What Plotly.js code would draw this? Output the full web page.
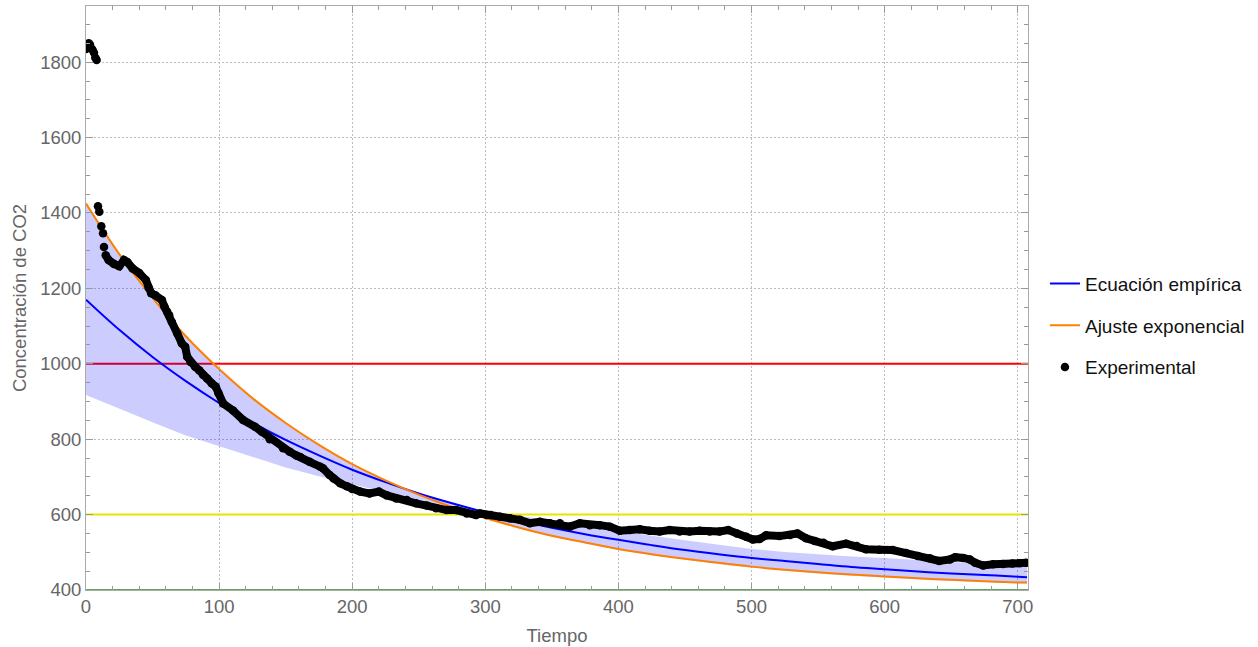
<!DOCTYPE html>
<html>
<head>
<meta charset="utf-8">
<script src="https://cdn.plot.ly/plotly-3.0.1.min.js"></script>
<style>html,body{margin:0;padding:0;background:#fff;}#chart{width:1258px;height:647px;}</style>
</head>
<body>
<div id="chart"></div>
<script>
// ---- Data ----
const curveT      = [0,25,50,75,100,125,150,175,200,225,250,275,300,325,350,375,400,425,450,475,500,525,550,575,600,625,650,675,700,707];
const empirica    = [1170,1090,1018,954,896,844,798,757,719,686,656,630,606,584,565,548,533,519,506,495,485,477,469,461,455,449,444,440,435,434];
const exponencial = [1425,1291,1175,1073,986,909,843,785,734,691,653,620,591,566,544,526,509,495,483,472,462,454,447,441,436,431,427,423,420,420];
const bandaSup    = [1425,1291,1175,1073,986,909,843,785,734,691,656,630,608,597,585,571,557,544,532,520,509,501,495,489,485,480,475,469,463,462];
const bandaInf    = [917,880,845,810,782,752,725,702,680,659,640,620,590,564,541,523,506,492,480,469,459,451,444,438,433,428,424,421,418,417];

const expT = [0,1,2,3,4,5,6,7,8,
  9,10,11.5,12.8,13.5,14.8,17,21,25,28.5,31,35,40,45,47,49,52,57,59,61,62.5,64.5,68.5,72,74.5,76,78.5,82,85,88,91,94.5,97.5,99.5,
  103,110.5,118,127,132,138,148,153,158,161,168,176,178,183,186,191,196,200,206,213,220,226,233,241,248,256,263,271,278,286,293,296,
  301,304,311,318.5,326,333.5,341,348.5,356,363.5,371,378.5,386,393.5,401,408.5,416,423.5,431,438.5,446,453.5,461,468.5,476,482.5,489,496,
  501,506,511,521,529,534.5,541,547.5,554,561,571,579,586,596,606,616,625,634,641,649,653,659,664,668,674,681.5,689,696,701.5,706.5];
const expC = [1835,1843,1850,1846,1836,1832,1825,1812,1806,
  1418,1403,1365,1346,1310,1288,1275,1265,1259,1275,1270,1253,1241,1222,1202,1187,1182,1169,1151,1138,1129,1111,1081,1054,1045,1019,1005,992,983,970,961,948,939,922,
  895,876,851,833,820,800,776,767,757,753,740,727,723,705,696,683,675,668,661,656,661,651,643,639,630,624,617,612,612,603,599,603,
  599,599,594,590,586,577,581,577,577,568,577,572,572,568,557,559,561,557,555,559,555,555,557,555,555,559,550,541,
  534,535,545,543,546,550,537,530,525,516,523,517,508,507,506,498,490,484,477,481,487,485,481,472,465,468,469,470,471,472];

const umbrales = [1000, 600, 400];
const umbralColores = ['#ff0000', '#e6e600', '#5aaa5a'];
const xRange = [0, 707.7];
const yRange = [400, 1949];

const traces = [];
umbrales.forEach((v, i) => {
  traces.push({x: xRange, y: [v, v], mode: 'lines', line: {color: umbralColores[i], width: 2},
    showlegend: false, hoverinfo: 'skip'});
});
traces.push({x: curveT, y: bandaSup, mode: 'lines', line: {width: 0}, showlegend: false, hoverinfo: 'skip'});
traces.push({x: curveT, y: bandaInf, mode: 'lines', line: {width: 0}, fill: 'tonexty',
  fillcolor: 'rgba(0,0,255,0.2)', showlegend: false, hoverinfo: 'skip'});
traces.push({x: curveT, y: empirica, mode: 'lines', name: 'Ecuación empírica', legendgroup: 'a',
  line: {color: '#0000ff', width: 2, shape: 'spline'}});
traces.push({x: curveT, y: exponencial, mode: 'lines', name: 'Ajuste exponencial', legendgroup: 'b',
  line: {color: '#ff8000', width: 2, shape: 'spline'}});
const start = 14;
traces.push({x: expT.slice(start), y: expC.slice(start), mode: 'lines', line: {color: '#000', width: 8},
  showlegend: false, hoverinfo: 'skip'});
traces.push({x: expT, y: expC, mode: 'markers', name: 'Experimental', legendgroup: 'c',
  marker: {color: '#000', size: 8.5}});

const axisFont = {family: 'Liberation Sans, Arial, sans-serif', size: 18.5, color: '#666'};
const layout = {
  width: 1258, height: 647,
  margin: {l: 86, r: 230, t: 6, b: 57},
  paper_bgcolor: '#fff', plot_bgcolor: '#fff',
  font: axisFont,
  xaxis: {
    range: xRange, tick0: 0, dtick: 100, ticks: 'inside', ticklen: 7, tickcolor: '#999', tickwidth: 1,
    showline: true, linecolor: '#aaa', linewidth: 1, mirror: 'ticks',
    showgrid: true, gridcolor: '#bdbdbd', griddash: '1.5px,2.5px', gridwidth: 1, zeroline: false,
    minor: {dtick: 20, ticks: 'inside', ticklen: 4, tickcolor: '#999', showgrid: false},
    tickfont: axisFont,
    title: {text: 'Tiempo', font: axisFont, standoff: 12}
  },
  yaxis: {
    range: yRange, tick0: 400, dtick: 200, ticks: 'inside', ticklen: 7, tickcolor: '#999', tickwidth: 1,
    showline: true, linecolor: '#aaa', linewidth: 1, mirror: 'ticks',
    showgrid: true, gridcolor: '#bdbdbd', griddash: '1.5px,2.5px', gridwidth: 1, zeroline: false,
    minor: {dtick: 50, ticks: 'inside', ticklen: 4, tickcolor: '#999', showgrid: false},
    tickfont: axisFont,
    title: {text: 'Concentración de CO2', font: axisFont, standoff: 8}
  },
  showlegend: true,
  legend: {x: 1.018, xanchor: 'left', y: 0.557, yanchor: 'top', tracegroupgap: 14,
    font: {family: 'Liberation Sans, Arial, sans-serif', size: 19, color: '#111'},
    bgcolor: 'rgba(0,0,0,0)'}
};
Plotly.newPlot('chart', traces, layout, {displayModeBar: false, staticPlot: true});
</script>
</body>
</html>
